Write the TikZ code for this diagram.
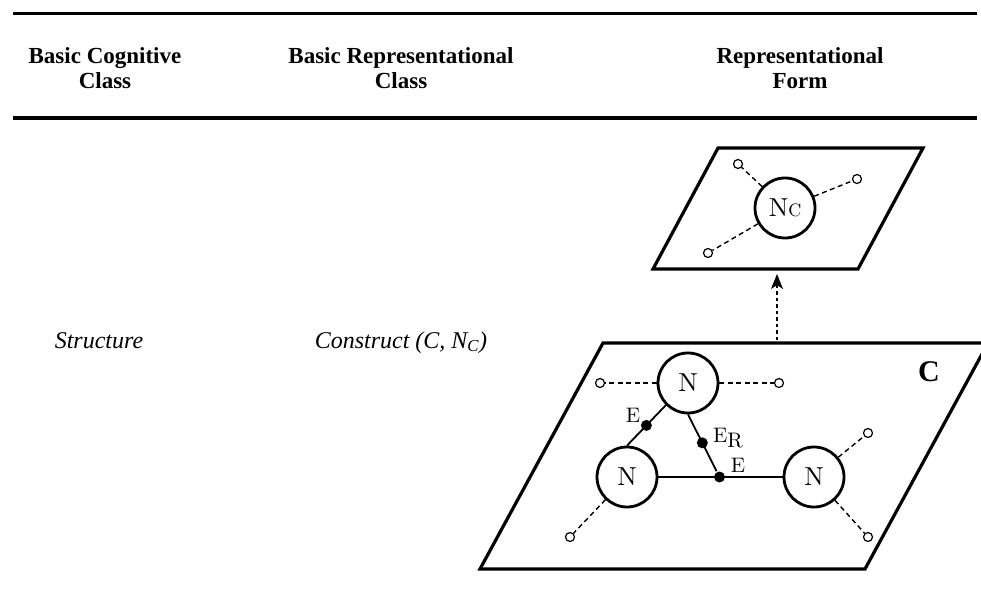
\documentclass[tikz,border=0pt]{standalone}
\usepackage{fontspec}
\newfontfamily\hdr{Liberation Serif}
\newfontfamily\lmten{lmroman10-regular}[Extension=.otf]
\usetikzlibrary{arrows.meta}
\begin{document}
\begin{tikzpicture}[x=1pt,y=-1pt,
  plane/.style={line width=3.2pt, line join=miter},
  rule/.style={line width=3.5pt},
  bignode/.style={circle, draw, line width=2.8pt, minimum size=60pt, inner sep=0pt, font=\lmten\fontsize{26}{30}\selectfont},
  port/.style={circle, draw, line width=1.2pt, minimum size=9pt, inner sep=0pt},
  dot/.style={circle, fill, minimum size=11pt, inner sep=0pt},
  edge/.style={line width=1.8pt},
  dashedge/.style={line width=1.4pt, dash pattern=on 5pt off 3.5pt},
  head/.style={align=center, font=\hdr\bfseries\fontsize{23}{25.5}\selectfont},
  body/.style={font=\hdr\itshape\fontsize{24}{28}\selectfont, anchor=base},
  elabel/.style={font=\lmten\fontsize{21}{24}\selectfont, inner sep=0pt}
]
\clip (0,0) rectangle (981,593);
\fill[white] (0,0) rectangle (981,593);

% table rules
\coordinate (r1a) at (13,13.5); \coordinate (r1b) at (977,13.5);
\coordinate (r2a) at (13,118); \coordinate (r2b) at (977,118);
\draw[rule] (r1a) -- (r1b);
\draw[rule] (r2a) -- (r2b);

% headers
\node[head] (h1) at (105,68) {Basic Cognitive\\Class};
\node[head] (h2) at (401,68) {Basic Representational\\Class};
\node[head] (h3) at (800,68) {Representational\\Form};

% body text
\node[body] (t1) at (99,348) {Structure};
\node[body] (t2) at (401,348) {Construct (C, N\textsubscript{C})};

% top plane
\draw[plane] (718,148) -- (923,148) -- (858,269) -- (653,269) -- cycle;
\node[bignode] (nc) at (785,208) {N{\fontsize{18}{20}\selectfont C}};
\node[port] (p1) at (738,164) {};
\node[port] (p2) at (857,179) {};
\node[port] (p3) at (708,253) {};
\draw[dashedge] (nc) -- (p1);
\draw[dashedge] (nc) -- (p2);
\draw[dashedge] (nc) -- (p3);

% arrow between planes
\coordinate (as) at (777,340);
\coordinate (ae) at (777,274);
\draw[line width=1.5pt, dash pattern=on 3.5pt off 3pt, -{Stealth[length=15pt,width=12pt,inset=4pt]}] (as) -- (ae);

% bottom plane
\draw[plane] (603,343) -- (988,343) -- (865,569) -- (480,569) -- cycle;
\node[font=\hdr\bfseries\fontsize{30}{34}\selectfont] (clabel) at (929,372) {C};

\node[bignode] (nt) at (688,383) {N};
\node[bignode] (nl) at (627,477) {N};
\node[bignode] (nr) at (814,477) {N};

\node[port] (q1) at (600,383) {};
\node[port] (q2) at (779,383) {};
\node[port] (q3) at (570,537) {};
\node[port] (q4) at (868,433) {};
\node[port] (q5) at (868,537) {};
\draw[dashedge] (nt) -- (q1);
\draw[dashedge] (nt) -- (q2);
\draw[dashedge] (nl) -- (q3);
\draw[dashedge] (nr) -- (q4);
\draw[dashedge] (nr) -- (q5);

% edges
\draw[edge] (nt.225) -- (nl.north) node[dot, pos=0.5] (d1) {};
\draw[edge] (nl) -- (nr) node[dot, pos=0.5, xshift=-1pt] (d3) {};
\draw[edge] (nt.south) -- (d3) node[dot, pos=0.5] (d2) {};

\node[elabel] (e1) at (633,415) {E};
\node[elabel] (e2) at (728,438) {E\raisebox{-5pt}{R}};
\node[elabel] (e3) at (738,465) {E};
\end{tikzpicture}
\end{document}
